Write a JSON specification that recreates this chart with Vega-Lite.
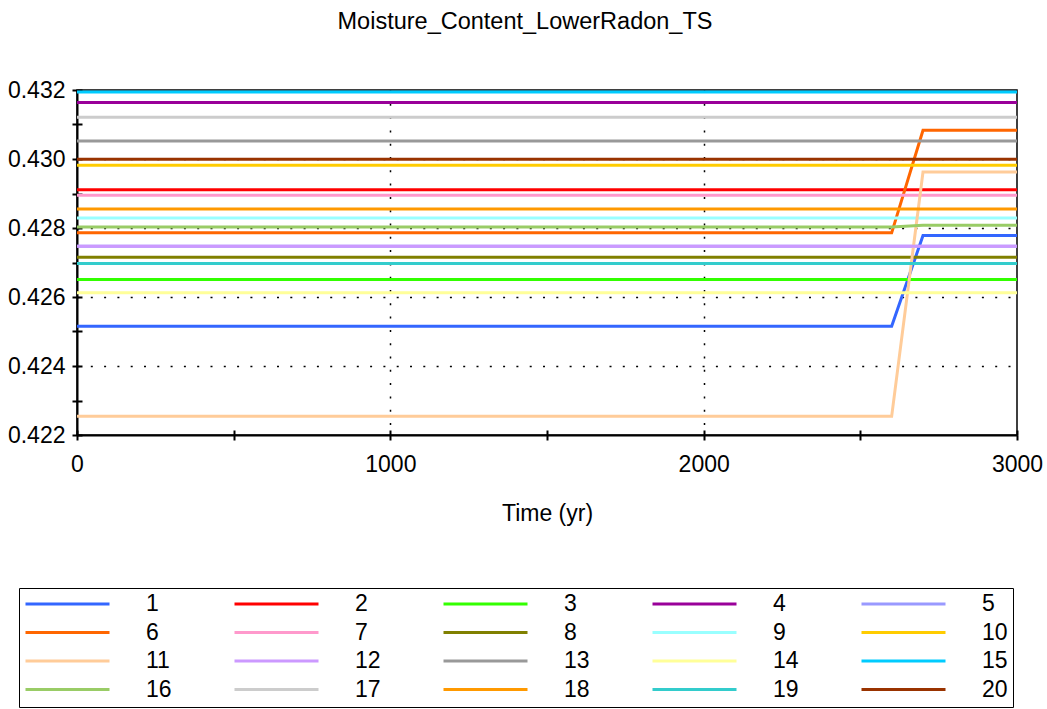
{
  "$schema": "https://vega.github.io/schema/vega-lite/v6.json",
  "width": 940,
  "height": 345,
  "autosize": {"type": "none"},
  "padding": {"left": 77, "top": 90, "right": 30, "bottom": 274},
  "background": "white",
  "title": {"text": "Moisture_Content_LowerRadon_TS", "fontSize": 23.5, "font": "Liberation Sans", "fontWeight": "normal", "color": "black", "anchor": "middle", "dx": -22, "offset": 46},
  "data": {"values": [
    {"t": 0, "s": "1", "v": 0.42515}, {"t": 2600, "s": "1", "v": 0.42515}, {"t": 2700, "s": "1", "v": 0.42778}, {"t": 3000, "s": "1", "v": 0.42778},
    {"t": 0, "s": "2", "v": 0.42911}, {"t": 3000, "s": "2", "v": 0.42911},
    {"t": 0, "s": "3", "v": 0.42651}, {"t": 3000, "s": "3", "v": 0.42651},
    {"t": 0, "s": "4", "v": 0.43164}, {"t": 3000, "s": "4", "v": 0.43164},
    {"t": 0, "s": "5", "v": 0.42747}, {"t": 3000, "s": "5", "v": 0.42747},
    {"t": 0, "s": "6", "v": 0.42786}, {"t": 2600, "s": "6", "v": 0.42786}, {"t": 2700, "s": "6", "v": 0.43083}, {"t": 3000, "s": "6", "v": 0.43083},
    {"t": 0, "s": "7", "v": 0.42895}, {"t": 3000, "s": "7", "v": 0.42895},
    {"t": 0, "s": "8", "v": 0.42715}, {"t": 3000, "s": "8", "v": 0.42715},
    {"t": 0, "s": "9", "v": 0.42829}, {"t": 3000, "s": "9", "v": 0.42829},
    {"t": 0, "s": "10", "v": 0.42982}, {"t": 3000, "s": "10", "v": 0.42982},
    {"t": 0, "s": "11", "v": 0.42254}, {"t": 2600, "s": "11", "v": 0.42254}, {"t": 2700, "s": "11", "v": 0.42962}, {"t": 3000, "s": "11", "v": 0.42962},
    {"t": 0, "s": "12", "v": 0.42747}, {"t": 3000, "s": "12", "v": 0.42747},
    {"t": 0, "s": "13", "v": 0.43052}, {"t": 3000, "s": "13", "v": 0.43052},
    {"t": 0, "s": "14", "v": 0.42612}, {"t": 3000, "s": "14", "v": 0.42612},
    {"t": 0, "s": "15", "v": 0.43194}, {"t": 3000, "s": "15", "v": 0.43194},
    {"t": 0, "s": "16", "v": 0.42803}, {"t": 2600, "s": "16", "v": 0.42803}, {"t": 2700, "s": "16", "v": 0.42808}, {"t": 3000, "s": "16", "v": 0.42808},
    {"t": 0, "s": "17", "v": 0.43121}, {"t": 3000, "s": "17", "v": 0.43121},
    {"t": 0, "s": "18", "v": 0.42855}, {"t": 3000, "s": "18", "v": 0.42855},
    {"t": 0, "s": "19", "v": 0.42697}, {"t": 3000, "s": "19", "v": 0.42697},
    {"t": 0, "s": "20", "v": 0.42999}, {"t": 3000, "s": "20", "v": 0.42999}
  ]},
  "config": {
    "view": {"stroke": "black", "strokeWidth": 1.5},
    "font": "Liberation Sans",
    "axis": {
      "labelFont": "Liberation Sans", "labelFontSize": 23, "labelColor": "black",
      "titleFont": "Liberation Sans", "titleFontSize": 23, "titleFontWeight": "normal", "titleColor": "black",
      "domainColor": "black", "domainWidth": 2, "tickColor": "black", "tickWidth": 2, "tickSize": 5,
      "labelOverlap": false, "labelFlush": false,
      "gridColor": "black", "gridDash": [2, 11.3], "gridWidth": 1.5
    },
    "legend": {
      "labelFont": "Liberation Sans", "labelFontSize": 23, "labelColor": "black"
    }
  },
  "layer": [
    {
      "mark": {"type": "line", "strokeWidth": 3, "clip": true},
      "encoding": {
        "x": {"field": "t", "type": "quantitative", "scale": {"domain": [0, 3000], "nice": false, "zero": false},
          "axis": {"orient": "bottom", "values": [0, 500, 1000, 1500, 2000, 2500, 3000],
            "labelExpr": "datum.value % 1000 == 0 ? format(datum.value, 'd') : ''",
            "labelPadding": 13, "title": "Time (yr)", "titlePadding": 26,
            "grid": true, "gridOpacity": {"condition": {"test": "datum.value == 1000 || datum.value == 2000", "value": 1}, "value": 0}}},
        "y": {"field": "v", "type": "quantitative", "scale": {"domain": [0.422, 0.432], "nice": false, "zero": false},
          "axis": {"orient": "left", "values": [0.422, 0.423, 0.424, 0.425, 0.426, 0.427, 0.428, 0.429, 0.43, 0.431, 0.432],
            "labelExpr": "round(datum.value * 1000) % 2 == 0 ? format(datum.value, '.3f') : ''",
            "labelPadding": 7, "title": null,
            "grid": true, "gridOpacity": {"condition": {"test": "round(datum.value * 1000) % 2 == 0 && round(datum.value * 1000) > 422 && round(datum.value * 1000) < 432", "value": 1}, "value": 0}}},
        "color": {"field": "s", "type": "nominal",
          "scale": {"domain": ["1","2","3","4","5","6","7","8","9","10","11","12","13","14","15","16","17","18","19","20"],
            "range": ["#3366ff","#ff0000","#33ff00","#990099","#9999ff","#ff6600","#ff99cc","#808000","#99ffff","#ffcc00","#ffcc99","#cc99ff","#999999","#ffff99","#00ccff","#99cc66","#cccccc","#ff9900","#33cccc","#993300"]},
          "legend": {"orient": "none", "legendX": -58, "legendY": 498, "columns": 5, "direction": "horizontal", "title": null,
            "symbolType": "stroke", "symbolSize": 7056, "symbolStrokeWidth": 3, "clipHeight": 22,
            "labelOffset": 35, "columnPadding": 61, "rowPadding": 5.5, "padding": 5,
            "strokeColor": "black"}}
      }
    },
    {
      "mark": {"type": "point", "opacity": 0},
      "encoding": {
        "x": {"field": "t", "type": "quantitative",
          "axis": {"orient": "bottom", "values": [0, 500, 1000, 1500, 2000, 2500, 3000], "labels": false, "domain": false, "grid": false, "tickSize": -5, "title": null}},
        "y": {"field": "v", "type": "quantitative",
          "axis": {"orient": "left", "values": [0.422, 0.423, 0.424, 0.425, 0.426, 0.427, 0.428, 0.429, 0.43, 0.431, 0.432], "labels": false, "domain": false, "grid": false, "tickSize": -5, "title": null}}
      }
    }
  ],
  "resolve": {"axis": {"x": "independent", "y": "independent"}}
}
